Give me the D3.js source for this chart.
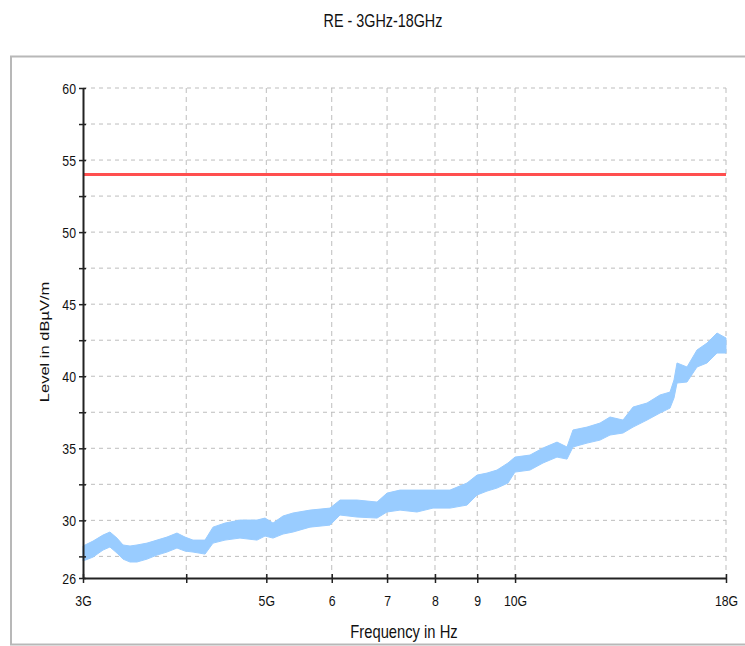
<!DOCTYPE html>
<html><head><meta charset="utf-8">
<script src="https://cdn.jsdelivr.net/npm/d3@7"></script>
<style>
html,body{margin:0;padding:0;background:#fff;}
svg{display:block;}
text{font-family:"Liberation Sans",Arial,sans-serif;fill:#111;}
</style></head>
<body>
<svg id="c" width="745" height="646"></svg>
<script>
// ---- data ----
const title = "RE - 3GHz-18GHz";
const xLabel = "Frequency in Hz";
const yLabel = "Level in dBµV/m";
const xTickValues = [3e9, 4e9, 5e9, 6e9, 7e9, 8e9, 9e9, 10e9, 18e9];
const xTickLabels = ["3G", "", "5G", "6", "7", "8", "9", "10G", "18G"];
const yTickLabelValues = [26, 30, 35, 40, 45, 50, 55, 60];
const yGridValues = [27.5, 30, 32.5, 35, 37.5, 40, 42.5, 45, 47.5, 50, 52.5, 55, 57.5, 60];
const limitLevel = 54;
// measured trace envelope: frequency (GHz), lower and upper level (dBµV/m)
const freqGHz = [3.000,3.085,3.172,3.234,3.298,3.354,3.420,3.487,3.586,3.687,3.791,3.898,3.986,4.076,4.215,4.310,4.456,4.646,4.872,4.982,5.094,5.238,5.386,5.647,5.971,6.140,6.438,6.807,6.999,7.257,7.609,7.956,8.342,8.747,8.994,9.248,9.509,9.805,9.998,10.425,10.810,11.240,11.557,11.752,12.220,12.671,13.029,13.509,13.891,14.444,14.977,15.400,15.572,15.703,16.147,16.603,17.072,17.555,18.000];
const upper = [28.22,28.56,28.98,29.19,28.77,28.29,28.22,28.29,28.42,28.63,28.84,29.12,28.84,28.63,28.63,29.53,29.81,30.02,30.02,30.16,29.81,30.30,30.51,30.71,30.85,31.41,31.41,31.27,31.89,32.10,32.10,32.10,32.10,32.59,33.14,33.28,33.49,33.98,34.39,34.53,35.02,35.43,35.09,36.27,36.47,36.75,37.17,36.96,37.86,38.14,38.70,38.90,39.74,40.92,40.64,41.82,42.30,43.00,42.65];
const lower = [27.18,27.45,27.94,28.15,27.73,27.31,27.11,27.11,27.31,27.59,27.80,28.08,27.87,27.80,27.66,28.42,28.63,28.77,28.63,28.91,28.77,29.05,29.19,29.53,29.67,30.37,30.23,30.16,30.58,30.71,30.58,30.85,30.85,31.06,31.76,32.03,32.24,32.59,33.35,33.49,33.98,34.39,34.25,35.09,35.36,35.57,35.92,36.06,36.47,36.96,37.45,37.79,38.49,39.53,39.60,40.64,40.92,41.61,41.61];

const trace = freqGHz.map((f,i)=>({f:f*1e9, lo:lower[i], hi:upper[i]}));

const svg = d3.select("#c");
const SX = 0.82; // horizontal condensing of all text

// frame
svg.append("rect").attr("x",11).attr("y",56.5).attr("width",800).attr("height",588)
  .attr("fill","none").attr("stroke","#b8b8b8").attr("stroke-width",2);

// title
svg.append("text").attr("transform",`translate(383,27) scale(${SX},1)`)
  .attr("text-anchor","middle").style("font-size","17.5px").text(title);

const x = d3.scaleLog().domain([3e9,18e9]).range([83,726]);
const y = d3.scaleLinear().domain([26,60]).range([578,88]);

// grid
const grid = svg.append("g");
grid.selectAll("line.h").data(yGridValues).join("line")
  .attr("x1",83).attr("x2",726).attr("y1",d=>y(d)).attr("y2",d=>y(d))
  .attr("stroke","#bdbdbd").attr("stroke-width",1).attr("stroke-dasharray","4,4");
grid.selectAll("line.v").data(xTickValues.slice(1)).join("line")
  .attr("x1",d=>x(d)).attr("x2",d=>x(d)).attr("y1",88).attr("y2",578)
  .attr("stroke","#bdbdbd").attr("stroke-width",1).attr("stroke-dasharray","5,4");

// limit line
svg.append("line").attr("x1",x(3e9)).attr("x2",x(18e9))
  .attr("y1",y(limitLevel)).attr("y2",y(limitLevel))
  .attr("stroke","#ff4f4f").attr("stroke-width",3);

// measurement trace
const area = d3.area().x(d=>x(d.f)).y0(d=>y(d.lo)).y1(d=>y(d.hi)).curve(d3.curveLinear);
svg.append("path").datum(trace).attr("d",area).attr("fill","#99ccff").attr("stroke","#99ccff").attr("stroke-width",1);

// x axis
const xAxis = svg.append("g").attr("transform","translate(0,578)")
  .call(d3.axisBottom(x).tickValues(xTickValues).tickFormat((d,i)=>xTickLabels[i]).tickSizeOuter(0));
xAxis.select(".domain").attr("stroke","#222").attr("stroke-width",2);
xAxis.selectAll(".tick line").attr("y1",-4).attr("y2",5).attr("stroke","#222").attr("stroke-width",1.5);
xAxis.selectAll(".tick text").attr("y",28).attr("dy",null)
  .attr("transform",`scale(${SX},1)`).style("font-size","15px").attr("fill","#111");

// y axis
const yAxis = svg.append("g").attr("transform","translate(83,0)")
  .call(d3.axisLeft(y).tickValues([26].concat(yGridValues)).tickFormat(d=>yTickLabelValues.includes(d)?String(d):"").tickSizeOuter(0));
yAxis.select(".domain").attr("stroke","#222").attr("stroke-width",2);
yAxis.selectAll(".tick line").attr("x1",-4).attr("x2",3).attr("stroke","#222").attr("stroke-width",1.5);
yAxis.selectAll(".tick text").attr("x",-7/SX).attr("dy","0.36em")
  .attr("transform",`scale(${SX},1)`).style("font-size","15px").attr("fill","#111");

// axis titles
svg.append("text").attr("transform",`translate(404,638) scale(${SX},1)`)
  .attr("text-anchor","middle").style("font-size","18px").text(xLabel);
svg.append("text").attr("transform",`translate(49,342) rotate(-90) scale(1,${SX})`)
  .attr("text-anchor","middle").style("font-size","16.5px").text(yLabel);
</script>
</body></html>
